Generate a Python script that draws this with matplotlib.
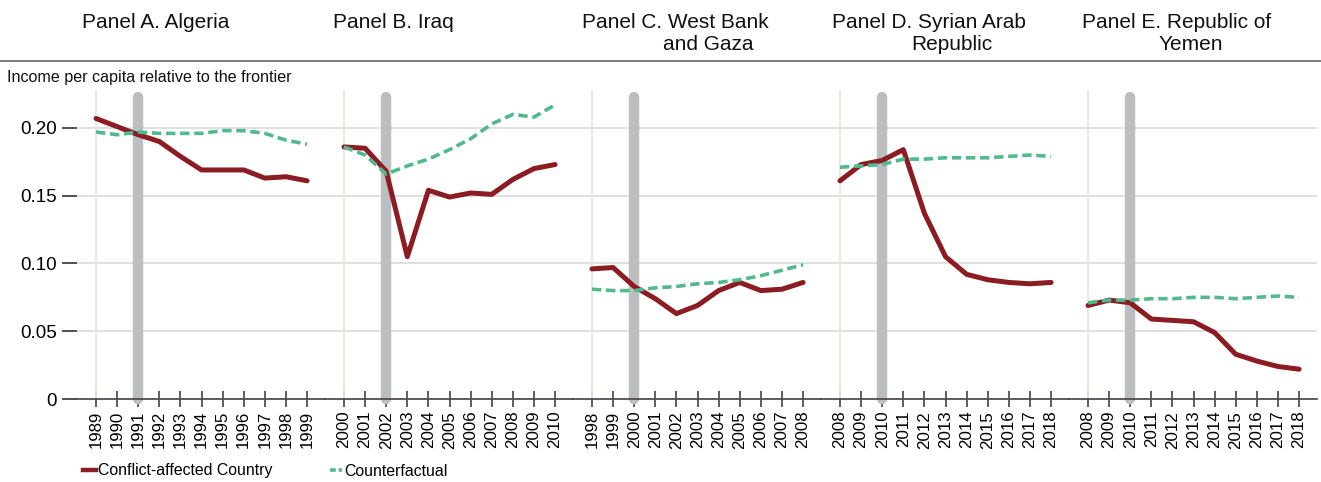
import matplotlib
matplotlib.use("Agg")
import matplotlib.pyplot as plt
from matplotlib.lines import Line2D

# ---------------- data ----------------
panel_titles = ["Panel A. Algeria", "Panel B. Iraq", "Panel C. West Bank",
                "Panel D. Syrian Arab", "Panel E. Republic of"]
panel_titles2 = ["", "", "and Gaza", "Republic", "Yemen"]

years_a = list(range(1989, 2000))
years_b = list(range(2000, 2011))
years_c = list(range(1998, 2009))
years_d = list(range(2008, 2019))
years_e = list(range(2008, 2019))

conflict_years = [1991, 2002, 2000, 2010, 2010]

algeria_actual = [0.207, 0.201, 0.195, 0.190, 0.179, 0.169, 0.169, 0.169, 0.163, 0.164, 0.161]
algeria_cf = [0.197, 0.195, 0.197, 0.196, 0.196, 0.196, 0.198, 0.198, 0.196, 0.191, 0.188]

iraq_actual = [0.186, 0.185, 0.168, 0.105, 0.154, 0.149, 0.152, 0.151, 0.162, 0.170, 0.173]
iraq_cf = [0.186, 0.180, 0.166, 0.172, 0.177, 0.184, 0.192, 0.203, 0.210, 0.208, 0.217]

wbg_actual = [0.096, 0.097, 0.083, 0.074, 0.063, 0.069, 0.080, 0.086, 0.080, 0.081, 0.086]
wbg_cf = [0.081, 0.080, 0.080, 0.082, 0.083, 0.085, 0.086, 0.088, 0.091, 0.095, 0.099]

syria_actual = [0.161, 0.173, 0.176, 0.184, 0.137, 0.105, 0.092, 0.088, 0.086, 0.085, 0.086]
syria_cf = [0.171, 0.172, 0.173, 0.177, 0.177, 0.178, 0.178, 0.178, 0.179, 0.180, 0.179]

yemen_actual = [0.069, 0.073, 0.071, 0.059, 0.058, 0.057, 0.049, 0.033, 0.028, 0.024, 0.022]
yemen_cf = [0.071, 0.073, 0.073, 0.074, 0.074, 0.075, 0.075, 0.074, 0.075, 0.076, 0.075]

y_ticks = [0, 0.05, 0.10, 0.15, 0.20]
y_ticklabels = ["0", "0.05", "0.10", "0.15", "0.20"]

panels = [
    (years_a, algeria_actual, algeria_cf),
    (years_b, iraq_actual, iraq_cf),
    (years_c, wbg_actual, wbg_cf),
    (years_d, syria_actual, syria_cf),
    (years_e, yemen_actual, yemen_cf),
]

# ---------------- style ----------------
RED = "#8A1C22"
GREEN = "#52B98C"
BAR = "#BDBEC2"
GRID = "#DCDCDC"
FIRST = "#E4E9DC"
DARK = "#333333"
FONT = ["Liberation Sans", "DejaVu Sans"]

W, H = 1321, 482
plt.rcParams["font.family"] = FONT

fig, axes = plt.subplots(1, 5, figsize=(W / 100, H / 100), dpi=100, sharey=True)
fig.subplots_adjust(left=77 / W, right=1317 / W, bottom=83 / H, top=392 / H, wspace=0)

for i, (ax, (yrs, actual, cf)) in enumerate(zip(axes, panels)):
    ax.set_xlim(yrs[0] - 0.9, yrs[-1] + 0.85)
    ax.set_ylim(0, 0.228)

    ax.set_yticks(y_ticks)
    ax.grid(axis="y", color=GRID, lw=1.3, zorder=0)
    ax.set_axisbelow(True)
    ax.axvline(yrs[0], color=FIRST, lw=1.3, zorder=1)

    # conflict onset marker
    cy = conflict_years[i]
    ax.plot([cy, cy], [0, 0.2232], color=BAR, lw=7.5, solid_capstyle="round",
            zorder=2, clip_on=False)

    ax.plot(yrs, actual, color=RED, lw=3.6, solid_capstyle="round",
            solid_joinstyle="round", zorder=3)
    ax.plot(yrs, cf, color=GREEN, lw=2.6, ls=(0, (2.6, 1.3)), zorder=4)

    for side in ["top", "right", "left"]:
        ax.spines[side].set_visible(False)
    ax.spines["bottom"].set_color("#444444")
    ax.spines["bottom"].set_linewidth(1.2)

    ax.set_xticks(yrs)
    ax.set_xticklabels([str(y) for y in yrs], rotation=90, fontsize=12.2)
    ax.tick_params(axis="x", direction="inout", length=11, width=1.1, color=DARK, pad=3)

    if i == 0:
        ax.set_yticklabels(y_ticklabels)
        ax.tick_params(axis="y", direction="out", length=11, width=1.2, color=DARK,
                       labelsize=13.5, pad=3.5)
    else:
        ax.tick_params(axis="y", length=0, labelleft=False)

    # panel titles
    left_px = 77 + i * 248
    off = [5, 8, 9, 11, 13][i]
    fig.text((left_px + off) / W, 1 - 28 / H, panel_titles[i], fontsize=15,
             ha="left", va="baseline", color="#111111")
    if panel_titles2[i]:
        fig.text((left_px + 90) / W, 1 - 50 / H, panel_titles2[i], fontsize=15,
                 ha="left", va="baseline", color="#111111")

# rule under titles
fig.add_artist(Line2D([0, 1], [1 - 61 / H] * 2, transform=fig.transFigure,
                      color="#666666", lw=1.2))

fig.text(7 / W, 1 - 82 / H, "Income per capita relative to the frontier",
         fontsize=11.6, ha="left", va="baseline", color="#111111")

handles = [
    Line2D([], [], color=RED, lw=3.2),
    Line2D([], [], color=GREEN, lw=2.6, ls=(0, (1.6, 0.8))),
]
fig.legend(handles, ["Conflict-affected Country", "Counterfactual"],
           loc="center left", bbox_to_anchor=(83 / W, 1 - 471 / H), ncol=2,
           frameon=False, fontsize=11.4, handlelength=0.8, handletextpad=0.15,
           columnspacing=3.6, borderpad=0, borderaxespad=0)

fig.savefig("out.png", dpi=100)
